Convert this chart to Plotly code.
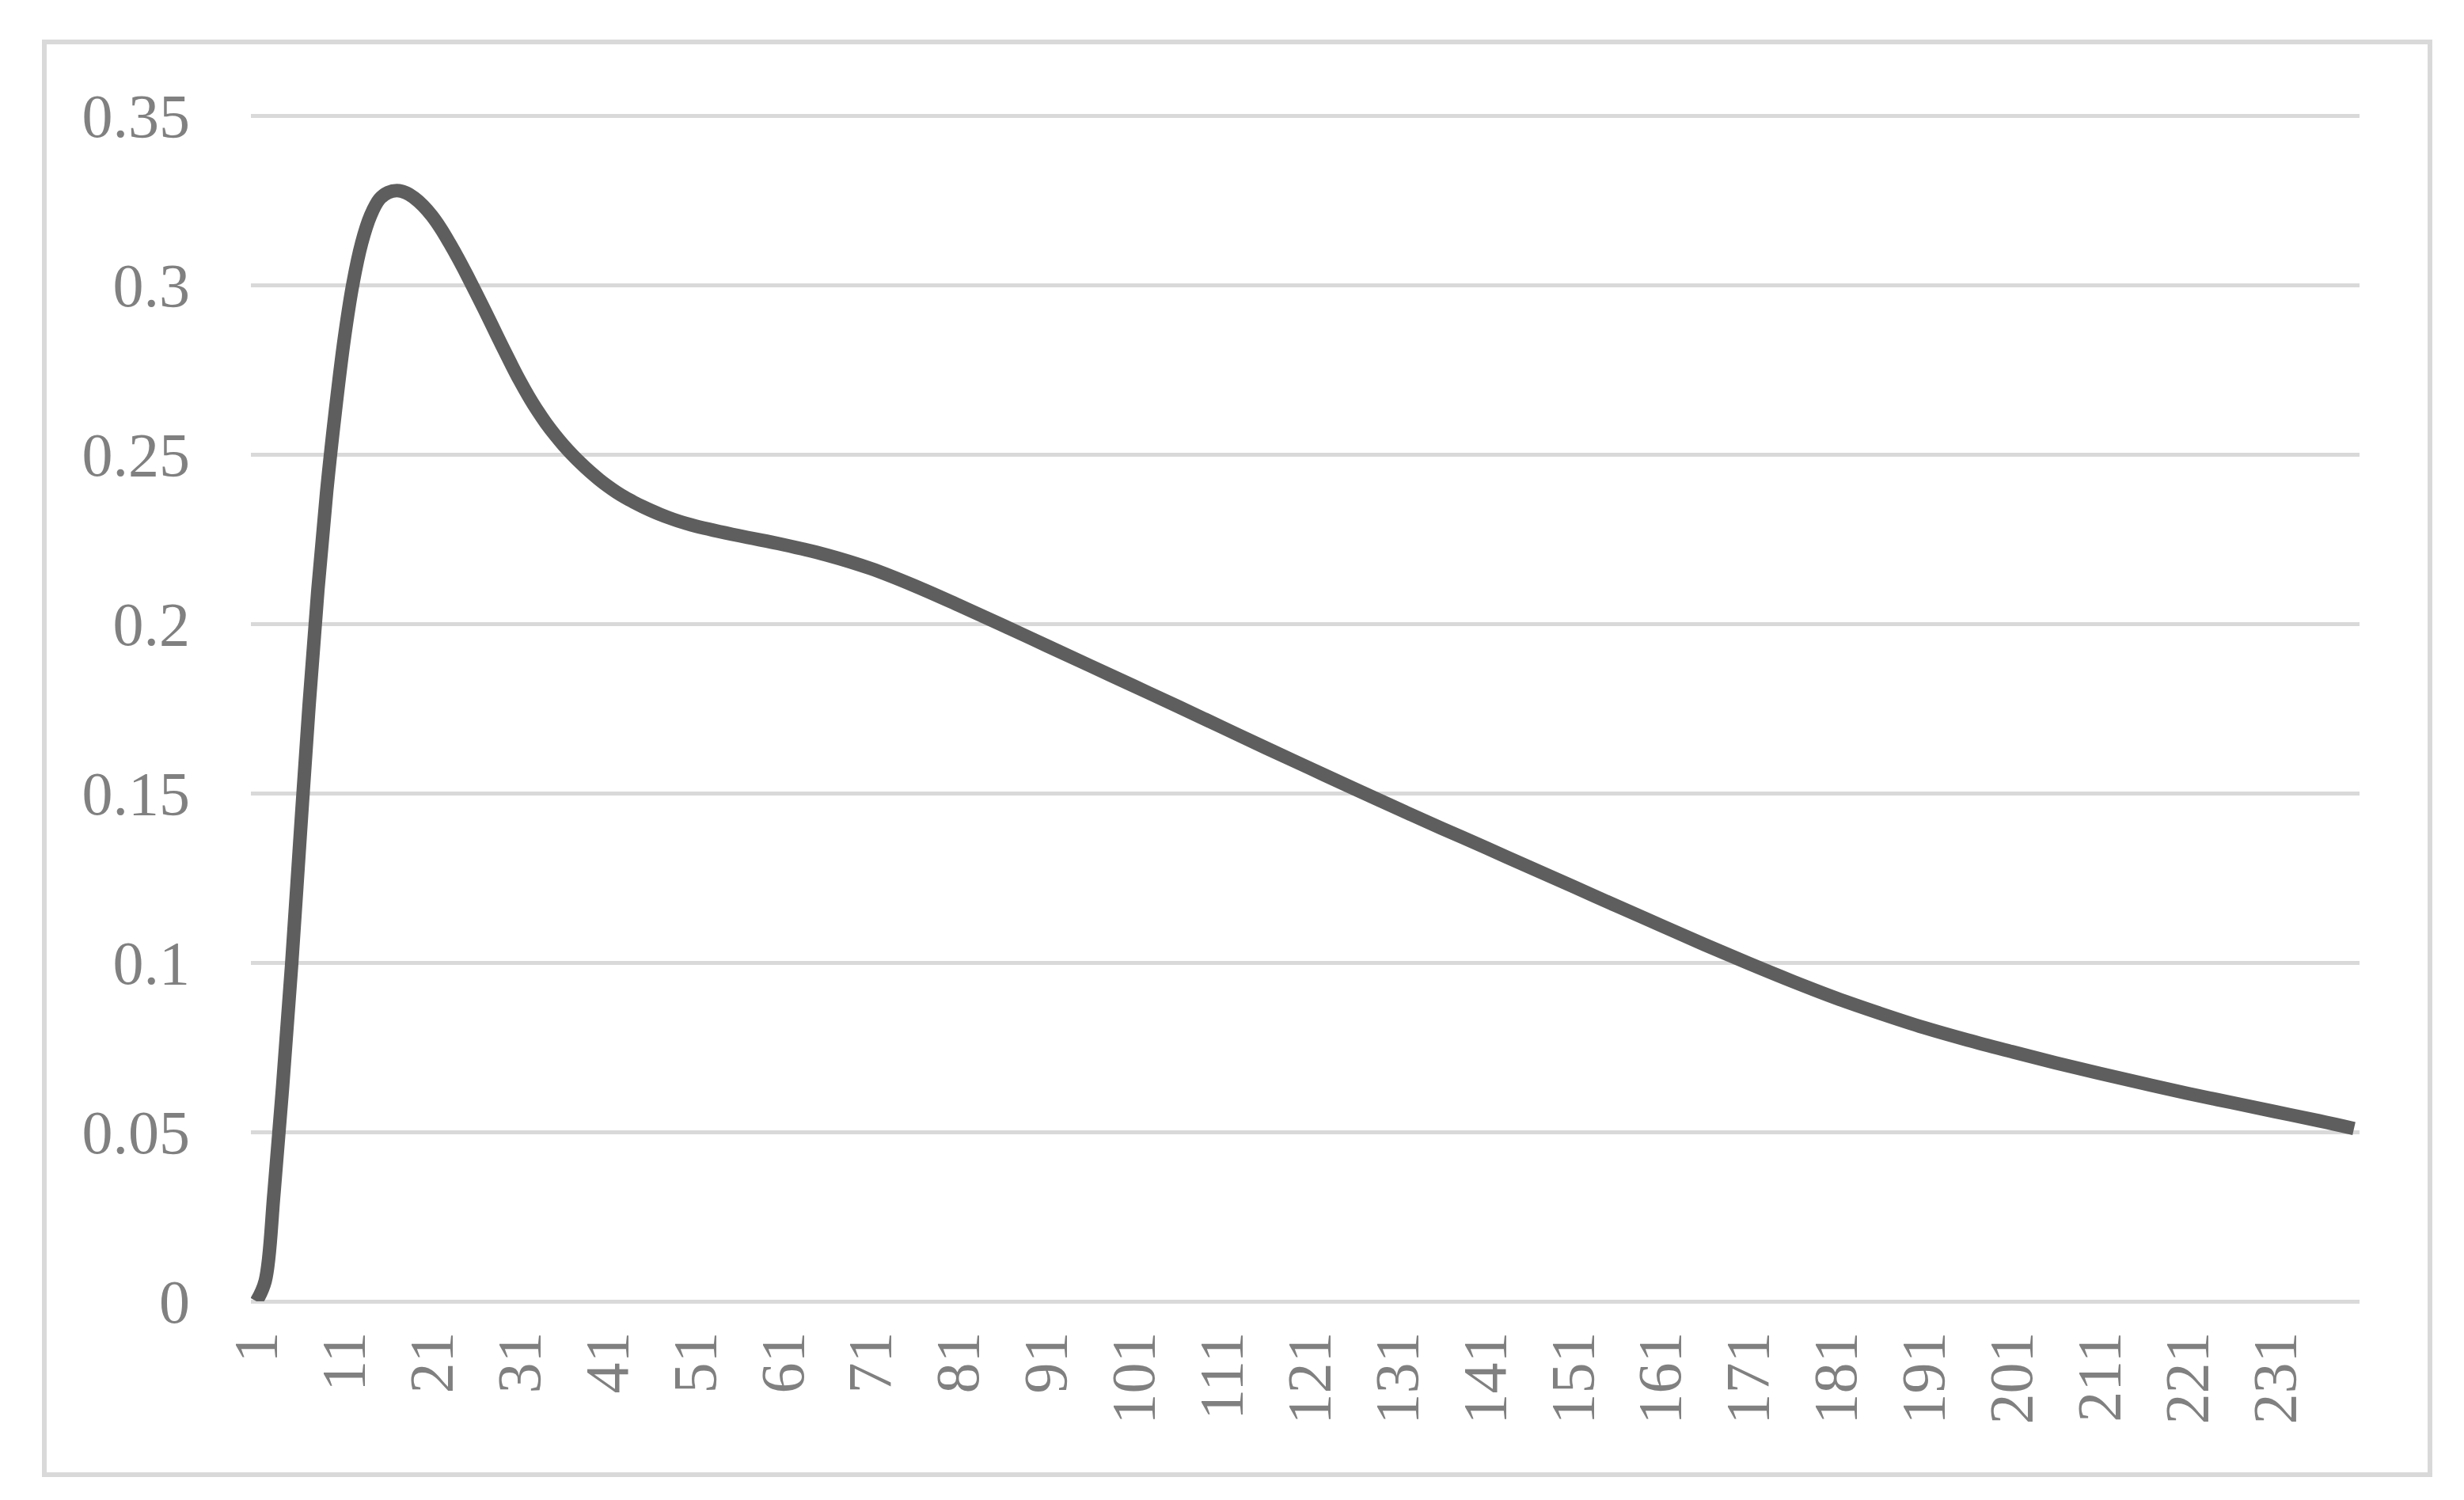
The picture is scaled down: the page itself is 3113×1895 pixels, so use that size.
import plotly.graph_objects as go

# values (category index -> value)
categories = (list(range(1, 52))
              + [56, 61, 66, 71, 76, 81, 86, 91, 96, 101, 106, 111, 116, 121, 126,
                 131, 136, 141, 146, 151, 156, 161, 166, 171, 176, 181, 186, 191,
                 196, 201, 206, 211, 216, 221, 226, 231, 236, 240])
values = [0.000, 0.006, 0.032, 0.064, 0.099, 0.138, 0.176, 0.210, 0.239, 0.263,
          0.284, 0.3005, 0.3125, 0.3205, 0.3253, 0.3273, 0.3279, 0.3273, 0.3257, 0.3234,
          0.3204, 0.3167, 0.3124, 0.3078, 0.3029, 0.2978, 0.2926, 0.2873, 0.2820,
          0.2768, 0.2718, 0.2672, 0.2630, 0.2592, 0.2558, 0.2527, 0.2499, 0.2473,
          0.2449, 0.2427, 0.2407, 0.2389, 0.2373, 0.2359, 0.2346, 0.2334, 0.2323,
          0.2313, 0.2304, 0.2296, 0.2289,
          0.2260, 0.2234, 0.2203, 0.2163, 0.2112, 0.2055, 0.1996, 0.1936, 0.1876,
          0.1816, 0.1756, 0.1695, 0.1634, 0.1574, 0.1514, 0.1455, 0.1397, 0.1340,
          0.1282, 0.1225, 0.1167, 0.1110, 0.1053, 0.0998, 0.0945, 0.0895, 0.0850,
          0.0808, 0.0771, 0.0737, 0.0704, 0.0673, 0.0643, 0.0614, 0.0587, 0.0560,
          0.0533, 0.0510]

x_ticks = list(range(1, 241, 10))
x_tick_labels = [str(t) for t in x_ticks]
y_ticks = [0, 0.05, 0.1, 0.15, 0.2, 0.25, 0.3, 0.35]
y_tick_labels = ["0", "0.05", "0.1", "0.15", "0.2", "0.25", "0.3", "0.35"]

W, H = 3113, 1895
L, R, T, B = 309, 140, 136, 259
pw, ph = W - L - R, H - T - B

FONT = "Palatino Linotype, Book Antiqua, Liberation Serif, serif"
GRID = "#d9d9d9"

fig = go.Figure()
fig.add_trace(go.Scatter(
    x=categories,
    y=values,
    mode="lines",
    line=dict(color="#5e5e5e", width=17, shape="spline"),
    showlegend=False,
))

# outer chart border
bx0, by0, bx1, by1 = 48, 45, 3062, 1855
fig.add_shape(
    type="rect", xref="paper", yref="paper",
    x0=(bx0 - L) / pw, x1=(bx1 - L) / pw,
    y0=1 - (by1 - T) / ph, y1=1 - (by0 - T) / ph,
    line=dict(color=GRID, width=6), fillcolor="rgba(0,0,0,0)", layer="below",
)

fig.update_layout(
    width=W, height=H, autosize=False,
    margin=dict(l=L, r=R, t=T, b=B, pad=0),
    paper_bgcolor="white", plot_bgcolor="white",
    font=dict(family=FONT, size=78, color="#808080"),
)
fig.update_xaxes(
    range=[0.37, 240.63],
    tickmode="array", tickvals=x_ticks, ticktext=x_tick_labels,
    tickangle=-90, showgrid=False, zeroline=False, showline=False,
    ticks="", ticklabelstandoff=22,
)
fig.update_yaxes(
    range=[0, 0.3505],
    tickmode="array", tickvals=y_ticks, ticktext=y_tick_labels,
    showgrid=True, gridcolor=GRID, gridwidth=5,
    zeroline=True, zerolinecolor=GRID, zerolinewidth=5,
    showline=False, ticks="", ticklabelstandoff=76,
)

fig.write_html("out.html")
